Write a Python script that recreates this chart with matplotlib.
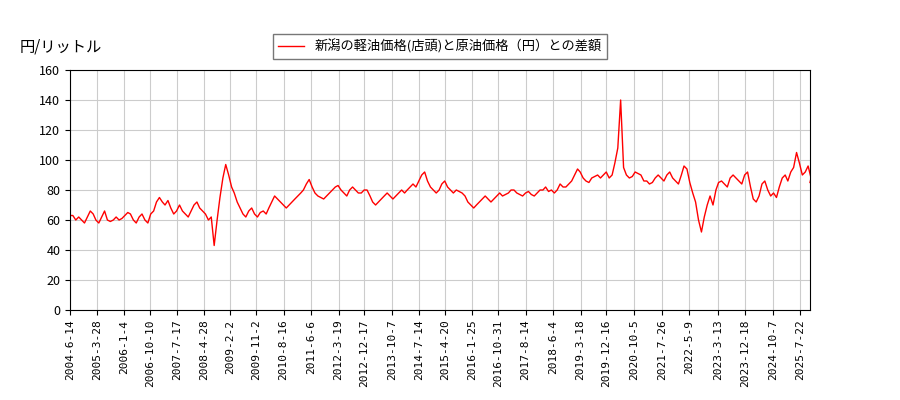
import matplotlib
matplotlib.use("Agg")
import matplotlib.pyplot as plt
import pandas as pd
import numpy as np

plt.rcParams["font.family"] = ["Noto Sans CJK JP", "DejaVu Sans"]

START = "2004-06-14"
# monthly approximate values, 2004-06 .. 2025-10
v2004 = [63, 60, 62, 60, 58, 62, 66]
v2005 = [64, 60, 58, 62, 66, 60, 59, 60, 62, 60, 61, 63]
v2006 = [65, 64, 60, 58, 62, 64, 60, 58, 64, 66, 72, 75]
v2007 = [72, 70, 73, 68, 64, 66, 70, 66, 64, 62, 66, 70]
v2008 = [72, 68, 66, 64, 60, 62, 43, 60, 75, 88, 97, 90]
v2009 = [82, 78, 72, 68, 64, 62, 66, 68, 64, 62, 65, 66]
v2010 = [64, 68, 72, 76, 74, 72, 70, 68, 70, 72, 74, 76]
v2011 = [78, 80, 84, 87, 82, 78, 76, 75, 74, 76, 78, 80]
v2012 = [82, 83, 80, 78, 76, 80, 82, 80, 78, 78, 80, 80]
v2013 = [76, 72, 70, 72, 74, 76, 78, 76, 74, 76, 78, 80]
v2014 = [78, 80, 82, 84, 82, 86, 90, 92, 86, 82, 80, 78]
v2015 = [80, 84, 86, 82, 80, 78, 80, 79, 78, 76, 72, 70]
v2016 = [68, 70, 72, 74, 76, 74, 72, 74, 76, 78, 76, 77]
v2017 = [78, 80, 80, 78, 77, 76, 78, 79, 77, 76, 78, 80]
v2018 = [80, 82, 79, 80, 78, 80, 84, 82, 82, 84, 86, 90]
v2019 = [94, 92, 88, 86, 85, 88, 89, 90, 88, 90, 92, 88]
v2020 = [90, 98, 108, 140, 95, 90, 88, 89, 92, 91, 90, 86]
v2021 = [86, 84, 85, 88, 90, 88, 86, 90, 92, 88, 86, 84]
v2022 = [90, 96, 94, 85, 78, 72, 60, 52, 62, 70, 76, 70]
v2023 = [80, 85, 86, 84, 82, 88, 90, 88, 86, 84, 90, 92]
v2024 = [82, 74, 72, 76, 84, 86, 80, 76, 78, 75, 82, 88]
v2025 = [90, 86, 92, 95, 105, 98, 90, 92, 96, 88]

tick_labels = ["2004-6-14", "2005-3-28", "2006-1-4", "2006-10-10", "2007-7-17",
               "2008-4-28", "2009-2-2", "2009-11-2", "2010-8-16", "2011-6-6",
               "2012-3-19", "2012-12-17", "2013-10-7", "2014-7-14", "2015-4-20",
               "2016-1-25", "2016-10-31", "2017-8-14", "2018-6-4", "2019-3-18",
               "2019-12-16", "2020-10-5", "2021-7-26", "2022-5-9", "2023-3-13",
               "2023-12-18", "2024-10-7", "2025-7-22"]
END = "2025-11-03"
end_value = 85

values = (v2004 + v2005 + v2006 + v2007 + v2008 + v2009 + v2010 + v2011
          + v2012 + v2013 + v2014 + v2015 + v2016 + v2017 + v2018 + v2019
          + v2020 + v2021 + v2022 + v2023 + v2024 + v2025)
dates = pd.date_range(START, periods=len(values), freq="MS") + pd.Timedelta(days=13)
dates = dates.insert(0, pd.Timestamp(START)).append(pd.DatetimeIndex([END]))
values = [values[0]] + values + [end_value]
ticks = pd.to_datetime(tick_labels)

fig = plt.figure(figsize=(9, 4), dpi=100)
ax = fig.add_axes([70 / 900, 90 / 400, 740 / 900, 240 / 400])
ax.plot(dates, values, color="red", linewidth=1.0,
        label="新潟の軽油価格(店頭)と原油価格（円）との差額")
ax.set_xlim(pd.Timestamp(START), pd.Timestamp(END))
ax.set_ylim(0, 160)
ax.set_yticks(np.arange(0, 161, 20))
ax.set_xticks(ticks)
ax.set_xticklabels(tick_labels, rotation=90, fontsize=8, family="DejaVu Sans Mono")
ax.tick_params(axis="y", labelsize=9)
ax.grid(True, color="#cccccc", linewidth=0.8)
ax.legend(loc="lower center", bbox_to_anchor=(0.5, 1.02), fontsize=9.5,
          frameon=True, fancybox=False, edgecolor="#555555")
fig.text(20 / 900, 1 - 47 / 400, "円/リットル", fontsize=11, va="center")
fig.savefig("out.png")
